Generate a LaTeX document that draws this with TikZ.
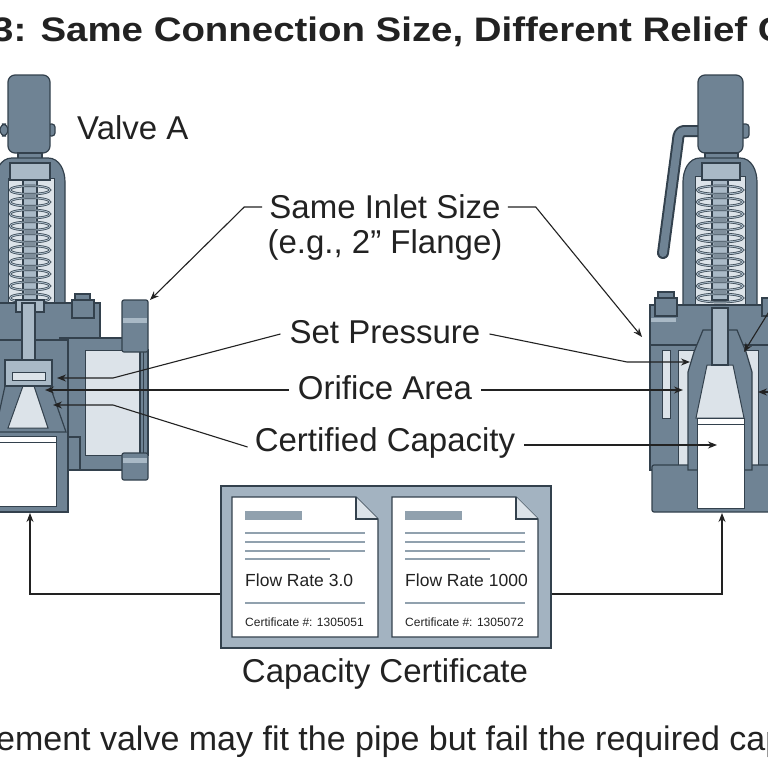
\documentclass[tikz,border=0pt]{standalone}
\usepackage{fontspec}
\setmainfont{Liberation Sans}
\usetikzlibrary{arrows.meta}
\definecolor{bodyc}{HTML}{6F8394}
\definecolor{darkc}{HTML}{33414D}
\definecolor{lightc}{HTML}{A9B9C6}
\definecolor{palec}{HTML}{DCE3E9}
\definecolor{certbg}{HTML}{A3B3C1}
\definecolor{ink}{HTML}{222222}
\begin{document}
\begin{tikzpicture}[x=1pt,y=-1pt,
  part/.style={fill=bodyc,draw=darkc,line width=1.2pt},
  lpart/.style={fill=lightc,draw=darkc,line width=1.2pt},
  ppart/.style={fill=palec,draw=darkc,line width=1pt},
  wpart/.style={fill=white,draw=darkc,line width=1pt},
  coil/.style={draw=darkc,line width=2.4pt},
  coilin/.style={draw=lightc,line width=1pt},
  lbl/.style={font=\fontsize{33}{35}\selectfont,text=ink,inner sep=1pt},
  lead/.style={draw=ink,line width=1.1pt},
  arr/.style={lead,-{Stealth[length=9pt,width=7pt]}},
  docline/.style={draw=lightc!80!darkc,line width=2pt}]
\useasboundingbox (0,0) rectangle (768,768);
\clip (0,0) rectangle (768,768);
\fill[white] (0,0) rectangle (768,768);
% title
\node[anchor=base west,font=\bfseries\fontsize{34}{36}\selectfont,text=ink,inner sep=0] (title) at (-8,42) {\scalebox{1.13}[1]{\llap{Figure }3: Same Connection Size, Different Relief Capacity}};
% ===== Valve A =====
\draw[part,rounded corners=6] (0,124) rectangle (8,136);
\draw[part,rounded corners=3] (48,124) rectangle (55,136);
\draw[part,rounded corners=7] (8,75) rectangle (50,153);
\draw[part] (18,153) rectangle (42,162);
\draw[part] (-5,303) -- (-5,182) to[out=90,in=180] (12,158) -- (48,158) to[out=0,in=90] (65,182) -- (65,303) -- cycle;
\draw[ppart] (8,303) rectangle (54,178);
\draw[lpart] (10,163) rectangle (50,180);
\draw[lpart] (23,180) rectangle (37,300);
\foreach \yy in {190,202,...,298}{\draw[coil] (30,\yy) ellipse (20 and 4.2);\draw[coilin] (30,\yy) ellipse (20 and 4.2);}
\draw[part] (-5,303) rectangle (100,340);
\draw[part] (75,294) rectangle (90,302);
\draw[part] (72,300) rectangle (94,318);
\draw[lpart] (16,300) rectangle (44,312);
% outlet
\draw[part] (60,338) rectangle (125,470);
\draw[ppart] (85,350) rectangle (142,455);
\draw[part] (140,350) rectangle (148,455);
\draw[darkc,line width=0.8pt] (143,352) -- (143,453);
\draw[part,rounded corners=2] (122,300) rectangle (148,352);
\draw[part,rounded corners=2] (122,453) rectangle (148,480);
\fill[lightc] (123,318) rectangle (147,323);
\fill[lightc] (123,458) rectangle (147,463);
\draw[part] (68,437) rectangle (80,470);
% lower body
\draw[part] (-5,340) rectangle (68,512);
\draw[wpart] (-5,436) rectangle (56,506);
\draw[darkc,line width=1pt] (-5,442) -- (56,442);
% nozzle
\draw[part] (5,386) -- (50,386) -- (66,432) -- (-5,432) -- cycle;
\draw[ppart] (23,386) -- (34,386) -- (48,428) -- (8,428) -- cycle;
\draw[lpart] (22,303) rectangle (35,366);
\draw[lpart] (5,360) rectangle (52,386);
\draw[ppart] (12,372) rectangle (45,380);
% label
\node[lbl,anchor=west] (va) at (76,128) {Valve A};
% ===== Valve B =====
\draw[darkc,line width=12pt,line cap=round,line join=round] (700,131) -- (684,131) to[out=180,in=90] (678,140) -- (663,253);
\draw[bodyc,line width=8pt,line cap=round,line join=round] (700,131) -- (684,131) to[out=180,in=90] (678,140) -- (663,253);
\draw[part,rounded corners=3] (740,124) rectangle (749,138);
\draw[part,rounded corners=7] (698,75) rectangle (743,153);
\draw[part] (705,153) rectangle (738,162);
\draw[part] (683,305) -- (683,182) to[out=90,in=180] (700,158) -- (740,158) to[out=0,in=90] (757,182) -- (757,305) -- cycle;
\draw[ppart] (695,305) rectangle (745,176);
\draw[lpart] (702,163) rectangle (740,180);
\draw[lpart] (712,180) rectangle (728,300);
\foreach \yy in {190,202,...,298}{\draw[coil] (720,\yy) ellipse (23 and 4.2);\draw[coilin] (720,\yy) ellipse (23 and 4.2);}
\draw[part] (650,305) rectangle (775,345);
\draw[part] (658,292) rectangle (674,300);
\draw[part] (655,298) rectangle (677,316);
\draw[part] (762,298) rectangle (775,316);
\fill[lightc] (651,318) rectangle (676,322);
% body
\draw[part] (650,345) rectangle (775,470);
\draw[ppart] (678,350) rectangle (758,465);
\draw[ppart] (662,350) rectangle (670,418);
\draw[part,rounded corners=2] (652,465) rectangle (775,512);
% disc / nozzle
\draw[part] (703,330) -- (737,330) -- (746,352) -- (752,372) -- (752,470) -- (688,470) -- (688,372) -- (694,352) -- cycle;
\draw[ppart] (707,365) -- (733,365) -- (744,418) -- (696,418) -- cycle;
\draw[lpart] (712,308) rectangle (728,365);
\draw[wpart] (697,418) rectangle (744,508);
\draw[darkc,line width=1pt] (697,424) -- (744,424);
% ===== centre labels =====
\node[lbl] (inlet) at (385,207) {Same Inlet Size};
\node[lbl] (flange) at (385,245) {(e.g., 2" Flange)};
\node[lbl] (setp) at (385,332) {Set Pressure};
\node[lbl] (orif) at (385,388) {Orifice Area};
\node[lbl] (cert) at (385,443) {Certified Capacity};
\coordinate (aIn) at (150,300);
\coordinate (bIn) at (642,337);
\coordinate (aSet) at (57,378);
\coordinate (aOr) at (45,390);
\coordinate (aCap) at (53,405);
\coordinate (bSet) at (690,362);
\coordinate (bOr) at (683,390);
\coordinate (bCap) at (717,445);
\draw[arr] (inlet.west) ++(-6,0) -- ++(-18,0) -- (aIn);
\draw[arr] (inlet.east) ++(6,0) -- ++(28,0) -- (bIn);
\draw[arr] (setp.west) ++(-8,2) -- (113,378) -- (aSet);
\draw[arr] (orif.west) ++(-8,2) -- (aOr);
\draw[arr] (cert.west) ++(-6,4) -- (113,405) -- (aCap);
\draw[arr] (setp.east) ++(8,2) -- (627,362) -- (bSet);
\draw[arr] (orif.east) ++(8,2) -- (bOr);
\draw[arr] (cert.east) ++(8,2) -- (bCap);
\coordinate (rTop) at (770,310);
\coordinate (rTopE) at (744,352);
\coordinate (rMid) at (770,392);
\coordinate (rMidE) at (758,392);
\draw[arr] (rTop) -- (rTopE);
\draw[arr] (rMid) -- (rMidE);
% ===== certificate =====
\node[draw=darkc,fill=certbg,line width=1.5pt,minimum width=330pt,minimum height=162pt,inner sep=0,anchor=north west] (box) at (220,485) {};
\foreach \dx/\num/\rate in {0/1305051/3.0,160/1305072/1000}{
  \begin{scope}[xshift=\dx pt]
  \draw[fill=white,draw=darkc,line width=1.2pt] (232,497) -- (356,497) -- (378,519) -- (378,637) -- (232,637) -- cycle;
  \draw[fill=palec,draw=darkc,line width=1.2pt] (356,497) -- (356,519) -- (378,519);
  \fill[lightc!80!darkc] (245,511) rectangle (302,520);
  \draw[docline] (245,533) -- (365,533);
  \draw[docline] (245,542) -- (365,542);
  \draw[docline] (245,551) -- (365,551);
  \draw[docline] (245,559) -- (330,559);
  \draw[docline] (245,603) -- (365,603);
  \node[anchor=base west,font=\fontsize{17.5}{19}\selectfont,text=ink,inner sep=0] at (245,586) {Flow Rate \rate};
  \node[anchor=base west,font=\fontsize{12}{13}\selectfont,text=ink,inner sep=0] at (245,626) {Certificate \#: \num};
  \end{scope}}
\coordinate (aBot) at (30,513);
\coordinate (bBot) at (722,513);
\draw[arr] (box.west |- 0,594) -- (30,594) -- (aBot);
\draw[arr] (box.east |- 0,594) -- (722,594) -- (bBot);
\node[lbl] (capcert) at (385,674) {Capacity Certificate};
\node[anchor=base west,font=\fontsize{34}{36}\selectfont,text=ink,inner sep=0] (foot) at (-4,750) {\llap{A replac}ement valve may fit the pipe but fail the required capacity.};
\end{tikzpicture}
\end{document}
